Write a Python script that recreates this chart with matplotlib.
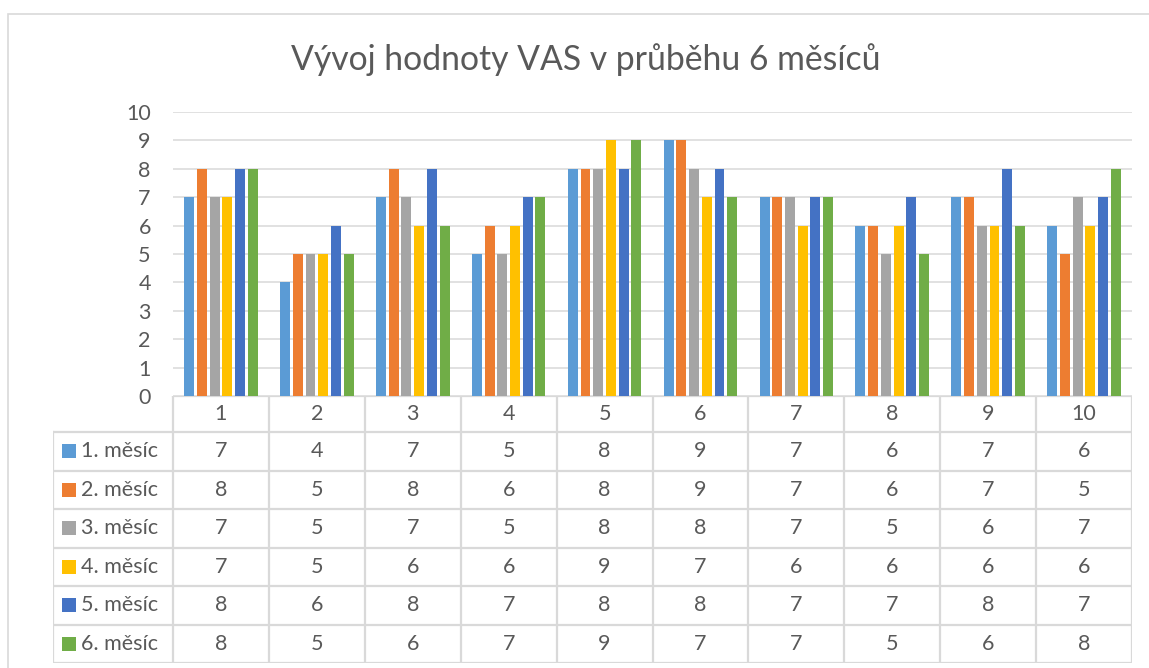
import matplotlib
matplotlib.use("Agg")
import matplotlib.pyplot as plt
from matplotlib.patches import Rectangle

plt.rcParams['font.family'] = ['Lato', 'DejaVu Sans']

title = "Vývoj hodnoty VAS v průběhu 6 měsíců"
categories = ["1", "2", "3", "4", "5", "6", "7", "8", "9", "10"]
series_names = ["1. měsíc", "2. měsíc", "3. měsíc", "4. měsíc", "5. měsíc", "6. měsíc"]
m1 = [7, 4, 7, 5, 8, 9, 7, 6, 7, 6]
m2 = [8, 5, 8, 6, 8, 9, 7, 6, 7, 5]
m3 = [7, 5, 7, 5, 8, 8, 7, 5, 6, 7]
m4 = [7, 5, 6, 6, 9, 7, 6, 6, 6, 6]
m5 = [8, 6, 8, 7, 8, 8, 7, 7, 8, 7]
m6 = [8, 5, 6, 7, 9, 7, 7, 5, 6, 8]
series = [m1, m2, m3, m4, m5, m6]
colors = ["#5B9BD5", "#ED7D31", "#A5A5A5", "#FFC000", "#4472C4", "#70AD47"]
yticks = list(range(0, 11))

W, H = 1149, 668
fig = plt.figure(figsize=(W / 100, H / 100), dpi=100)
txt = "#595959"
grid = "#D9D9D9"
fs = 15.5

def fx(px):
    return px / W

def fy(py):
    return 1 - py / H

# outer chart border
fig.patches.append(Rectangle((fx(8), fy(700)), fx(1200), fy(14) - fy(700),
                             transform=fig.transFigure, fill=False,
                             edgecolor=grid, linewidth=1.2))

# main axes
L, R, T, B = 173, 1132, 112, 396
ax = fig.add_axes([fx(L), fy(B), fx(R - L), fy(T) - fy(B)])
n = len(categories)
step = 0.1325
width = 0.104
for j, (vals, c) in enumerate(zip(series, colors)):
    xs = [i + (j - 2.5) * step for i in range(n)]
    ax.bar(xs, vals, width=width, color=c, zorder=3, linewidth=0)
ax.set_xlim(-0.5, n - 0.5)
ax.set_ylim(0, 10)
ax.set_yticks(yticks)
ax.set_yticklabels([str(v) for v in yticks], fontsize=fs, color=txt)
ax.tick_params(axis='y', length=0, pad=16)
ax.set_xticks([])
ax.grid(axis='y', color=grid, linewidth=1.1, zorder=0)
for s in ax.spines.values():
    s.set_visible(False)

fig.text(0.510, fy(60), title, ha='center', va='center', fontsize=24.3, color=txt)

# data table
TL, TB = 53, 663
legw = (L - TL) / ((R - L) / n)
hdr = 36 / 38.4
tax = fig.add_axes([fx(TL), fy(TB), fx(R - TL), fy(B) - fy(TB)])
tax.set_xlim(-0.5 - legw, n - 0.5)
nrows = len(series)
tax.set_ylim(hdr + nrows, 0)
tax.axis('off')
lw = 1.6
# verticals
for i in range(n + 1):
    tax.plot([i - 0.5, i - 0.5], [0, hdr + nrows], color=grid, lw=lw, solid_capstyle='projecting')
tax.plot([-0.5 - legw, -0.5 - legw], [hdr, hdr + nrows], color=grid, lw=lw, solid_capstyle='projecting')
# horizontals
tax.plot([-0.5, n - 0.5], [0, 0], color=grid, lw=lw)
for r in range(nrows + 1):
    tax.plot([-0.5 - legw, n - 0.5], [hdr + r, hdr + r], color=grid, lw=lw, solid_capstyle='projecting')
# header
for i, cat in enumerate(categories):
    tax.text(i, hdr / 2, cat, ha='center', va='center', fontsize=fs, color=txt)
# rows
px_unit = (R - L) / n
for r, (name, vals, c) in enumerate(zip(series_names, series, colors)):
    yc = hdr + r + 0.5
    sq = 14 / px_unit
    x0 = -0.5 - legw + 9 / px_unit
    tax.add_patch(Rectangle((x0, yc - 0.18), sq, 0.365, color=c, lw=0))
    tax.text(-0.5 - legw + 28 / px_unit, yc, name, ha='left', va='center', fontsize=fs, color=txt)
    for i, v in enumerate(vals):
        tax.text(i, yc, str(v), ha='center', va='center', fontsize=fs, color=txt)

fig.savefig("out.png", dpi=100)
